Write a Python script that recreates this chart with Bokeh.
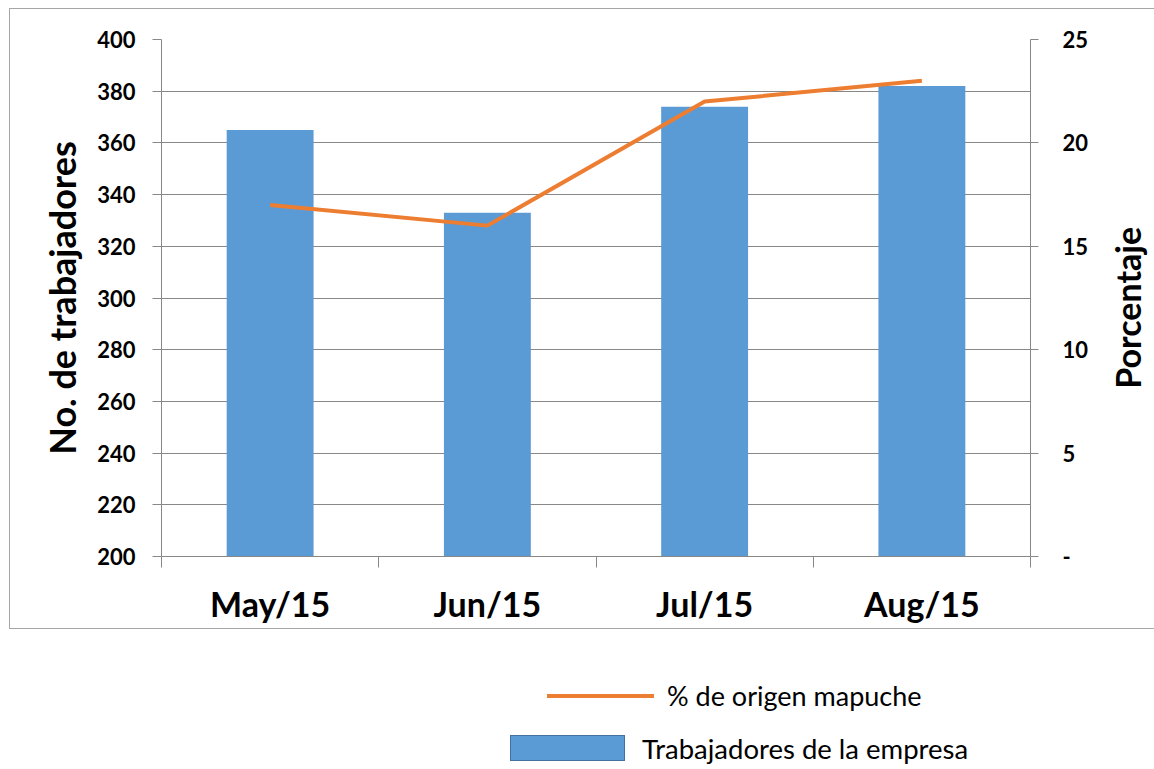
import math
from bokeh.plotting import figure
from bokeh.layouts import column, row
from bokeh.models import Range1d, LinearAxis, FixedTicker, Div
from bokeh.core.properties import value
from bokeh.embed import file_html
from bokeh.resources import INLINE

categories = ["May/15", "Jun/15", "Jul/15", "Aug/15"]
trabajadores = [365, 333, 374, 382]
porcentaje = [17, 16, 22, 23]
left_ticks = [200, 220, 240, 260, 280, 300, 320, 340, 360, 380, 400]
right_ticks = [0, 5, 10, 15, 20, 25]
series_names = ["% de origen mapuche", "Trabajadores de la empresa"]
axis_titles = ["No. de trabajadores", "Porcentaje"]

FONT = "Lato"
GRAY = "#888888"
BLUE = "#5B9BD5"
ORANGE = "#ED7D31"

xs = list(range(len(categories)))

p = figure(width=1095, height=619, x_range=Range1d(-0.5, len(categories) - 0.5),
           y_range=Range1d(200, 400), output_backend="svg", toolbar_location=None,
           min_border_left=151, min_border_right=75, min_border_top=30, min_border_bottom=72)
p.extra_y_ranges = {"pct": Range1d(0, 25)}

p.vbar(x=xs, top=trabajadores, bottom=200, width=0.4, fill_color=BLUE, line_color=None)
p.line(xs, porcentaje, y_range_name="pct", line_color=ORANGE, line_width=4)

p.outline_line_color = None
p.xgrid.visible = False
p.ygrid.grid_line_color = GRAY
p.ygrid.ticker = FixedTicker(ticks=left_ticks)

# left axis
ya = p.yaxis[0]
ya.ticker = FixedTicker(ticks=left_ticks)
ya.axis_line_color = GRAY
ya.major_tick_line_color = GRAY
ya.major_tick_out = 9
ya.major_tick_in = 0
ya.minor_tick_line_color = None
ya.major_label_standoff = 17
ya.major_label_text_font = FONT
ya.major_label_text_font_style = "bold"
ya.major_label_text_font_size = "22px"
ya.major_label_text_color = "black"
ya.axis_label = axis_titles[0]
ya.axis_label_text_font = FONT
ya.axis_label_text_font_style = "bold"
ya.axis_label_text_font_size = "36px"
ya.axis_label_text_color = "black"
ya.axis_label_standoff = 10

# right axis (ticks and labels only; title drawn in the side strip)
ra = LinearAxis(y_range_name="pct", ticker=FixedTicker(ticks=right_ticks),
                major_label_overrides={0: "-"})
ra.axis_line_color = GRAY
ra.major_tick_line_color = GRAY
ra.major_tick_out = 8
ra.major_tick_in = 0
ra.minor_tick_line_color = None
ra.major_label_standoff = 24
ra.major_label_text_font = FONT
ra.major_label_text_font_style = "bold"
ra.major_label_text_font_size = "22px"
ra.major_label_text_color = "black"
p.add_layout(ra, "right")

# bottom axis
xa = p.xaxis[0]
xa.ticker = FixedTicker(ticks=xs, minor_ticks=[i - 0.5 for i in range(len(categories) + 1)])
xa.major_label_overrides = {i: c for i, c in enumerate(categories)}
xa.axis_line_color = GRAY
xa.major_tick_line_color = None
xa.minor_tick_line_color = GRAY
xa.minor_tick_out = 11
xa.minor_tick_in = 0
xa.major_label_standoff = 15
xa.major_label_text_font = FONT
xa.major_label_text_font_style = "bold"
xa.major_label_text_font_size = "34px"
xa.major_label_text_color = "black"

# side strip holding the right-hand axis title (reads bottom to top)
side = figure(width=50, height=619, x_range=Range1d(0, 50), y_range=Range1d(0, 1),
              output_backend="svg", toolbar_location=None, min_border=0,
              x_axis_location=None, y_axis_location=None)
side.grid.visible = False
side.outline_line_color = None
side.text(x=[21.5], y=[0.481], text=[axis_titles[1]], angle=math.pi / 2,
          text_font=value(FONT), text_font_style="bold", text_font_size="34px",
          text_align="center", text_baseline="middle", text_color="black")

chart = row(p, side, spacing=0, styles={"border": "1px solid #A6A6A6"})
chart.margin = (8, 0, 0, 9)

# legend below the bordered chart
legend_html = (
    '<div style="position:relative;width:1154px;height:138px;font-family:Lato;color:black;">'
    f'<div style="position:absolute;left:547px;top:65px;width:107px;height:3.5px;background:{ORANGE};"></div>'
    f'<div style="position:absolute;left:510px;top:106px;width:115px;height:26px;background:{BLUE};border:1px solid #41719C;"></div>'
    f'<span style="position:absolute;left:667px;top:50px;font-size:27px;line-height:34px;white-space:nowrap;">{series_names[0]}</span>'
    f'<span style="position:absolute;left:642px;top:103px;font-size:27.5px;line-height:34px;white-space:nowrap;">{series_names[1]}</span>'
    '</div>'
)
legend = Div(text=legend_html, width=1154, height=138, margin=(0, 0, 0, 0))

layout = column(chart, legend, spacing=0)
open("out.html", "w").write(file_html(layout, INLINE))
